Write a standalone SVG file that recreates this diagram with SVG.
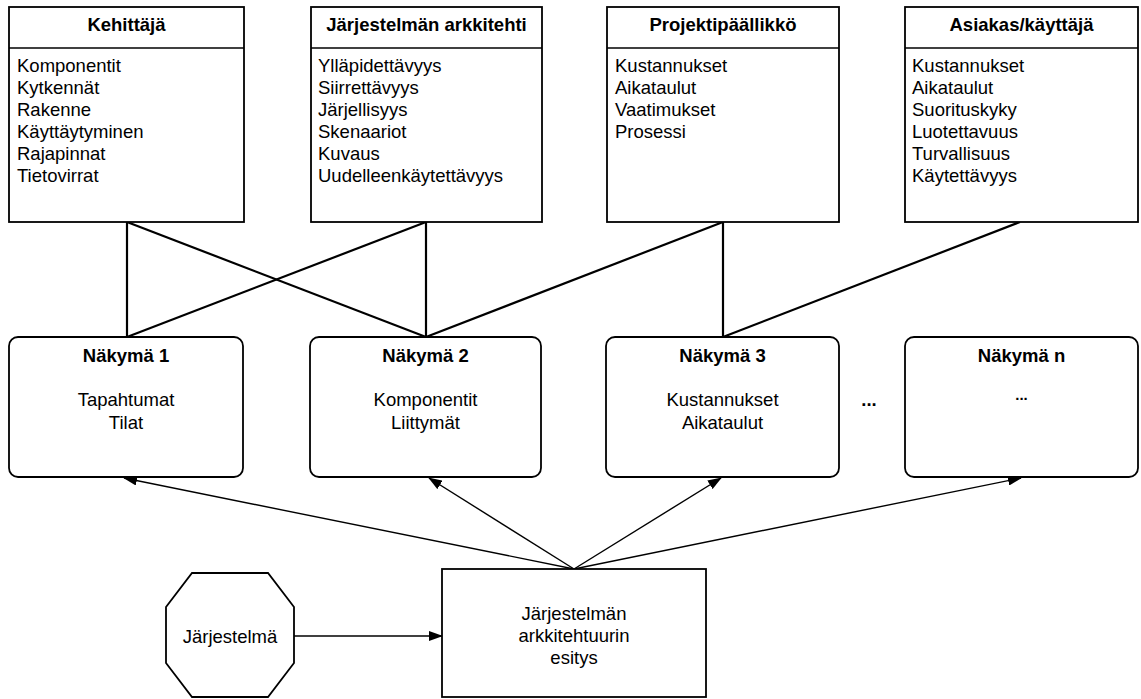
<svg xmlns="http://www.w3.org/2000/svg" width="1141" height="699" viewBox="0 0 1141 699">
  <defs>
    <marker id="arrow" viewBox="0 0 14 10" refX="13" refY="5" markerWidth="14" markerHeight="10" markerUnits="userSpaceOnUse" orient="auto">
      <path d="M0,0 L14,5 L0,10 Z" fill="#000"/>
    </marker>
    <style>
      text { font-family: "Liberation Sans", Arial, sans-serif; fill: #000; }
      .head { font-size: 18.5px; font-weight: bold; text-anchor: middle; }
      .item { font-size: 18.5px; }
      .mid { font-size: 18.5px; text-anchor: middle; }
      .box { fill: #fff; stroke: #000; stroke-width: 1.8; }
      .rule { stroke: #000; stroke-width: 1.5; }
      .link { stroke: #000; stroke-width: 2.2; fill: none; }
      .arr { stroke: #000; stroke-width: 1.4; fill: none; marker-end: url(#arrow); }
    </style>
  </defs>
  <rect width="1141" height="699" fill="#fff"/>

  <!-- connectors -->
  <g id="connectors">
    <line class="link" x1="127" y1="222" x2="127" y2="337"/>
    <line class="link" x1="127" y1="222" x2="426" y2="337"/>
    <line class="link" x1="426" y1="222" x2="127" y2="337"/>
    <line class="link" x1="426" y1="222" x2="426" y2="337"/>
    <line class="link" x1="723" y1="222" x2="426" y2="337"/>
    <line class="link" x1="723" y1="222" x2="723" y2="337"/>
    <line class="link" x1="1020" y1="222" x2="723" y2="337"/>
    <line class="arr" x1="574" y1="569" x2="124" y2="478"/>
    <line class="arr" x1="574" y1="569" x2="429" y2="478"/>
    <line class="arr" x1="574" y1="569" x2="721" y2="478"/>
    <line class="arr" x1="574" y1="569" x2="1021" y2="478"/>
    <line class="arr" x1="290" y1="636" x2="442" y2="636"/>
  </g>

  <!-- stakeholder boxes -->
  <g id="kehittaja">
    <rect class="box" x="9" y="7" width="235" height="215"/>
    <line class="rule" x1="9" y1="48" x2="244" y2="48"/>
    <text class="head" x="126.5" y="31">Kehittäjä</text>
    <text class="item" x="17" y="72">Komponentit</text>
    <text class="item" x="17" y="94">Kytkennät</text>
    <text class="item" x="17" y="116">Rakenne</text>
    <text class="item" x="17" y="138">Käyttäytyminen</text>
    <text class="item" x="17" y="160">Rajapinnat</text>
    <text class="item" x="17" y="182">Tietovirrat</text>
  </g>
  <g id="arkkitehti">
    <rect class="box" x="311" y="7" width="231" height="215"/>
    <line class="rule" x1="311" y1="48" x2="542" y2="48"/>
    <text class="head" x="426.5" y="31">Järjestelmän arkkitehti</text>
    <text class="item" x="318" y="72">Ylläpidettävyys</text>
    <text class="item" x="318" y="94">Siirrettävyys</text>
    <text class="item" x="318" y="116">Järjellisyys</text>
    <text class="item" x="318" y="138">Skenaariot</text>
    <text class="item" x="318" y="160">Kuvaus</text>
    <text class="item" x="318" y="182">Uudelleenkäytettävyys</text>
  </g>
  <g id="projektipaallikko">
    <rect class="box" x="607" y="7" width="232" height="215"/>
    <line class="rule" x1="607" y1="48" x2="839" y2="48"/>
    <text class="head" x="723" y="31">Projektipäällikkö</text>
    <text class="item" x="615" y="72">Kustannukset</text>
    <text class="item" x="615" y="94">Aikataulut</text>
    <text class="item" x="615" y="116">Vaatimukset</text>
    <text class="item" x="615" y="138">Prosessi</text>
  </g>
  <g id="asiakas">
    <rect class="box" x="905" y="7" width="233" height="215"/>
    <line class="rule" x1="905" y1="48" x2="1138" y2="48"/>
    <text class="head" x="1021.5" y="31">Asiakas/käyttäjä</text>
    <text class="item" x="912" y="72">Kustannukset</text>
    <text class="item" x="912" y="94">Aikataulut</text>
    <text class="item" x="912" y="116">Suorituskyky</text>
    <text class="item" x="912" y="138">Luotettavuus</text>
    <text class="item" x="912" y="160">Turvallisuus</text>
    <text class="item" x="912" y="182">Käytettävyys</text>
  </g>

  <!-- views -->
  <g id="nakyma1">
    <rect class="box" x="9" y="337" width="234" height="140" rx="9"/>
    <text class="head" x="126" y="362">Näkymä 1</text>
    <text class="mid" x="126" y="406">Tapahtumat</text>
    <text class="mid" x="126" y="429">Tilat</text>
  </g>
  <g id="nakyma2">
    <rect class="box" x="310" y="337" width="231" height="140" rx="9"/>
    <text class="head" x="425.5" y="362">Näkymä 2</text>
    <text class="mid" x="425.5" y="406">Komponentit</text>
    <text class="mid" x="425.5" y="429">Liittymät</text>
  </g>
  <g id="nakyma3">
    <rect class="box" x="606" y="337" width="233" height="140" rx="9"/>
    <text class="head" x="722.5" y="362">Näkymä 3</text>
    <text class="mid" x="722.5" y="406">Kustannukset</text>
    <text class="mid" x="722.5" y="429">Aikataulut</text>
  </g>
  <text class="head" x="869" y="406">...</text>
  <g id="nakyman">
    <rect class="box" x="905" y="337" width="233" height="140" rx="9"/>
    <text class="head" x="1021.5" y="362">Näkymä n</text>
    <text class="head" x="1021.5" y="400" style="font-size:15px">...</text>
  </g>

  <!-- system and its architecture description -->
  <g id="jarjestelma">
    <polygon class="box" points="192,573 268,573 294,607 294,663 268,697 192,697 166,663 166,607"/>
    <text class="mid" x="230" y="643">Järjestelmä</text>
  </g>
  <g id="esitys">
    <rect class="box" x="442" y="569" width="264" height="128"/>
    <text class="mid" x="574" y="620">Järjestelmän</text>
    <text class="mid" x="574" y="642">arkkitehtuurin</text>
    <text class="mid" x="574" y="664">esitys</text>
  </g>
</svg>
